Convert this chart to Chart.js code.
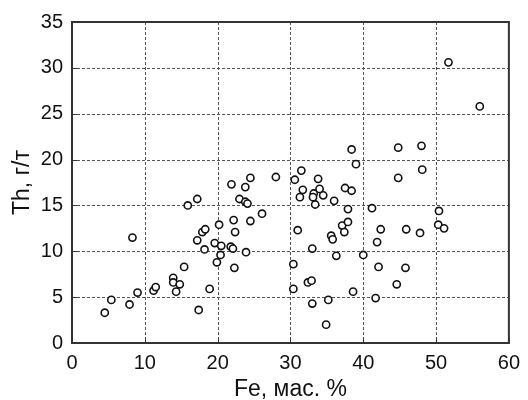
<!DOCTYPE html>
<html>
<head>
<meta charset="utf-8">
<script src="https://cdn.jsdelivr.net/npm/chart.js@4/dist/chart.umd.min.js"></script>
<style>
  html, body { margin: 0; padding: 0; background: #fff; }
  #wrap { width: 528px; height: 400px; }
</style>
</head>
<body>
<div id="wrap"><canvas id="scatter"></canvas></div>
<script>
'use strict'

// Fe, mass % (x) and Th, g/t (y)
const feValues = [4.5, 5.4, 7.9, 9.0, 8.3, 11.2, 11.5, 13.9, 13.9, 14.3,
    14.8, 15.4, 15.9, 17.2, 17.4, 17.2, 17.9, 18.3, 18.2, 18.9,
    19.6, 19.9, 20.2, 20.5, 20.4, 21.9, 21.8, 22.1, 22.2, 22.4,
    22.3, 23.0, 23.8, 23.8, 24.1, 23.9, 24.5, 24.5, 26.1, 28.0,
    30.6, 31.5, 31.7, 31.3, 31.0, 30.4, 30.4, 33.2, 33.1, 33.4,
    33.8, 34.0, 34.5, 36.0, 37.5, 38.4, 38.4, 39.0, 37.9, 37.1,
    37.9, 37.4, 35.6, 35.8, 33.0, 36.3, 40.0, 32.4, 32.9, 33.0,
    35.2, 34.9, 38.6, 41.7, 41.2, 41.9, 42.4, 42.1, 44.8, 44.8,
    44.6, 45.9, 45.8, 48.0, 48.1, 47.8, 50.4, 50.3, 51.1, 51.7,
    56.0];
const thValues = [3.3, 4.7, 4.2, 5.5, 11.5, 5.7, 6.1, 7.1, 6.6, 5.6,
    6.4, 8.3, 15.0, 15.7, 3.6, 11.2, 12.1, 12.4, 10.2, 5.9,
    10.9, 8.8, 12.9, 10.6, 9.6, 17.3, 10.5, 10.3, 13.4, 12.1,
    8.2, 15.7, 17.0, 15.4, 15.2, 9.9, 13.3, 18.0, 14.1, 18.1,
    17.8, 18.8, 16.7, 15.9, 12.3, 8.6, 5.9, 16.3, 15.9, 15.1,
    17.9, 16.8, 16.1, 15.5, 16.9, 16.6, 21.1, 19.5, 14.6, 12.8,
    13.2, 12.1, 11.7, 11.3, 10.3, 9.5, 9.6, 6.6, 6.8, 4.3,
    4.7, 2.0, 5.6, 4.9, 14.7, 11.0, 12.4, 8.3, 21.3, 18.0,
    6.4, 12.4, 8.2, 21.5, 18.9, 12.0, 14.4, 12.9, 12.5, 30.6,
    25.8];

const xTicks = [0, 10, 20, 30, 40, 50, 60];
const yTicks = [0, 5, 10, 15, 20, 25, 30, 35];
const xTitle = 'Fe, мас. %';
const yTitle = 'Th, г/т';

const ink = '#111';
const tickFont = { family: 'Liberation Sans, Arial, sans-serif', size: 20 };
const titleFont = { family: 'Liberation Sans, Arial, sans-serif', size: 23, lineHeight: 1 };

let points = feValues.map(function (x, i) {
    return { x: x, y: thValues[i] };
});

// dashed grid, solid frame round the plot, short inner tick marks
let framePlugin = {
    id: 'frame',
    beforeDatasetsDraw: function (chart) {
        let ctx = chart.ctx;
        let a = chart.chartArea;
        let xs = chart.scales.x, ys = chart.scales.y;
        ctx.save();
        ctx.strokeStyle = '#555';
        ctx.lineWidth = 1;
        ctx.setLineDash([3, 2]);
        ctx.beginPath();
        xTicks.slice(1, -1).forEach(function (v) {
            let px = Math.round(xs.getPixelForValue(v)) + 0.5;
            ctx.moveTo(px, a.top);
            ctx.lineTo(px, a.bottom);
        });
        yTicks.slice(1, -1).forEach(function (v) {
            let py = Math.round(ys.getPixelForValue(v)) + 0.5;
            ctx.moveTo(a.left, py);
            ctx.lineTo(a.right, py);
        });
        ctx.stroke();
        ctx.setLineDash([]);
        ctx.strokeStyle = '#333';
        ctx.beginPath();
        xTicks.forEach(function (v) {
            let px = Math.round(xs.getPixelForValue(v)) + 0.5;
            ctx.moveTo(px, a.bottom);
            ctx.lineTo(px, a.bottom - 5);
        });
        yTicks.forEach(function (v) {
            let py = Math.round(ys.getPixelForValue(v)) + 0.5;
            ctx.moveTo(a.left, py);
            ctx.lineTo(a.left + 5, py);
        });
        ctx.stroke();
        ctx.lineWidth = 2;
        ctx.strokeRect(a.left, a.top, a.right - a.left, a.bottom - a.top);
        ctx.restore();
    }
};

let ctx = document.getElementById('scatter');
let chart = new Chart(ctx, {
    type: 'scatter',
    data: {
        datasets: [{
            data: points,
            pointRadius: 3.6,
            pointHoverRadius: 3.6,
            borderWidth: 1.6,
            borderColor: '#111',
            backgroundColor: '#fff'
        }]
    },
    options: {
        responsive: true,
        maintainAspectRatio: false,
        animation: false,
        events: [],
        layout: { padding: { left: 0, right: 13, top: 22, bottom: 0 } },
        plugins: { legend: { display: false }, tooltip: { enabled: false } },
        scales: {
            x: {
                type: 'linear',
                min: xTicks[0],
                max: xTicks[xTicks.length - 1],
                afterBuildTicks: function (s) { s.ticks = xTicks.map(function (v) { return { value: v }; }); },
                afterFit: function (s) { s.height = 57; },
                grid: { display: false, drawTicks: false },
                border: { display: false },
                ticks: { color: ink, font: tickFont, padding: 8, maxRotation: 0 },
                title: { display: true, text: xTitle, color: ink, font: titleFont, padding: { top: 0, bottom: -1 } }
            },
            y: {
                type: 'linear',
                min: yTicks[0],
                max: yTicks[yTicks.length - 1],
                afterBuildTicks: function (s) { s.ticks = yTicks.map(function (v) { return { value: v }; }); },
                afterFit: function (s) { s.width = 72; },
                grid: { display: false, drawTicks: false },
                border: { display: false },
                ticks: { color: ink, font: tickFont, padding: 9 },
                title: { display: true, text: yTitle, color: ink, font: titleFont, padding: { top: 11, bottom: 0 } }
            }
        }
    },
    plugins: [framePlugin]
});
</script>
</body>
</html>
